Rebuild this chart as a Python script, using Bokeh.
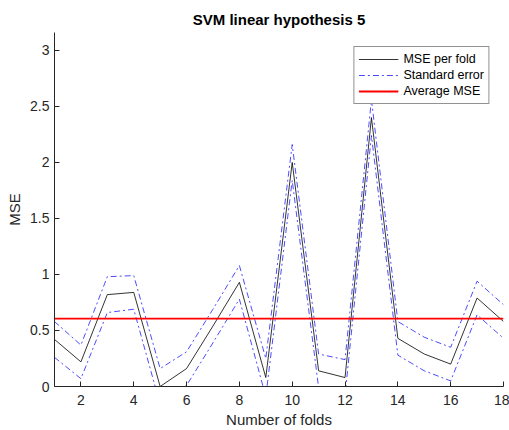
from bokeh.plotting import figure
from bokeh.models import Range1d, FixedTicker, Legend, LegendItem
from bokeh.embed import file_html
from bokeh.resources import INLINE
import numpy as np

# ---- data ----
folds = list(range(1, 19))
mse = [0.42, 0.22, 0.82, 0.84, 0.00, 0.16, 0.54, 0.93, 0.08, 2.00,
       0.14, 0.08, 2.40, 0.43, 0.29, 0.20, 0.79, 0.58]
se = [0.16, 0.15, 0.16, 0.15, 0.16, 0.15, 0.15, 0.15, 0.17, 0.16,
      0.15, 0.16, 0.16, 0.15, 0.15, 0.15, 0.15, 0.15]
x_ticks = [2, 4, 6, 8, 10, 12, 14, 16, 18]
y_ticks = [0, 0.5, 1, 1.5, 2, 2.5, 3]
y_tick_labels = ["0", "0.5", "1", "1.5", "2", "2.5", "3"]

upper = [m + s for m, s in zip(mse, se)]
lower = [m - s for m, s in zip(mse, se)]
avg_mse = float(np.mean(mse))

FONT = "Liberation Sans"
AX = "#262626"

p = figure(width=509, height=430, output_backend="svg", toolbar_location=None,
           x_range=Range1d(1, 18), y_range=Range1d(0, 3.16),
           min_border_left=54, min_border_right=6, min_border_top=32,
           min_border_bottom=44)
p.background_fill_color = "white"
p.border_fill_color = "white"
p.outline_line_color = None
p.xgrid.visible = False
p.ygrid.visible = False

p.title.text = "SVM linear hypothesis 5"
p.title.align = "center"
p.title.text_font = FONT
p.title.text_font_size = "15px"
p.title.text_font_style = "bold"
p.title.text_color = "#000000"

for ax in (p.xaxis[0], p.yaxis[0]):
    ax.axis_line_color = AX
    ax.major_tick_line_color = AX
    ax.major_tick_in = 5
    ax.major_tick_out = 0
    ax.minor_tick_line_color = None
    ax.major_label_text_font = FONT
    ax.major_label_text_font_size = "14px"
    ax.major_label_text_color = AX
    ax.axis_label_text_font = FONT
    ax.axis_label_text_font_size = "15px"
    ax.axis_label_text_font_style = "normal"
    ax.axis_label_text_color = AX

p.xaxis.ticker = FixedTicker(ticks=x_ticks)
p.yaxis.ticker = FixedTicker(ticks=y_ticks)
p.yaxis.major_label_overrides = {t: l for t, l in zip(y_ticks, y_tick_labels)}
p.xaxis.axis_label = "Number of folds"
p.yaxis.axis_label = "MSE"
p.xaxis.major_label_standoff = 8
p.yaxis.major_label_standoff = 5
p.xaxis.axis_label_standoff = 3
p.yaxis.axis_label_standoff = 4

r_mse = p.line(folds, mse, line_color="#000000", line_width=1, line_alpha=0.8)
r_up = p.line(folds, upper, line_color="#0000ff", line_width=1, line_alpha=0.7,
              line_dash="6 3 2 3")
r_lo = p.line(folds, lower, line_color="#0000ff", line_width=1, line_alpha=0.7,
              line_dash="6 3 2 3")
r_avg = p.line([folds[0], folds[-1]], [avg_mse, avg_mse], line_color="#ff0000",
               line_width=1.8)

legend = Legend(items=[
    LegendItem(label="MSE per fold", renderers=[r_mse]),
    LegendItem(label="Standard error", renderers=[r_up]),
    LegendItem(label="Average MSE", renderers=[r_avg]),
], location="top_right")
legend.label_text_font = FONT
legend.label_text_font_size = "12.5px"
legend.label_text_color = "#000000"
legend.border_line_color = AX
legend.border_line_width = 1
legend.background_fill_color = "white"
legend.background_fill_alpha = 1
legend.glyph_width = 40
legend.glyph_height = 16
legend.label_height = 16
legend.label_standoff = 5
legend.spacing = 0
legend.padding = 4
legend.margin = 14
p.add_layout(legend)

open("out.html", "w").write(file_html(p, INLINE))
